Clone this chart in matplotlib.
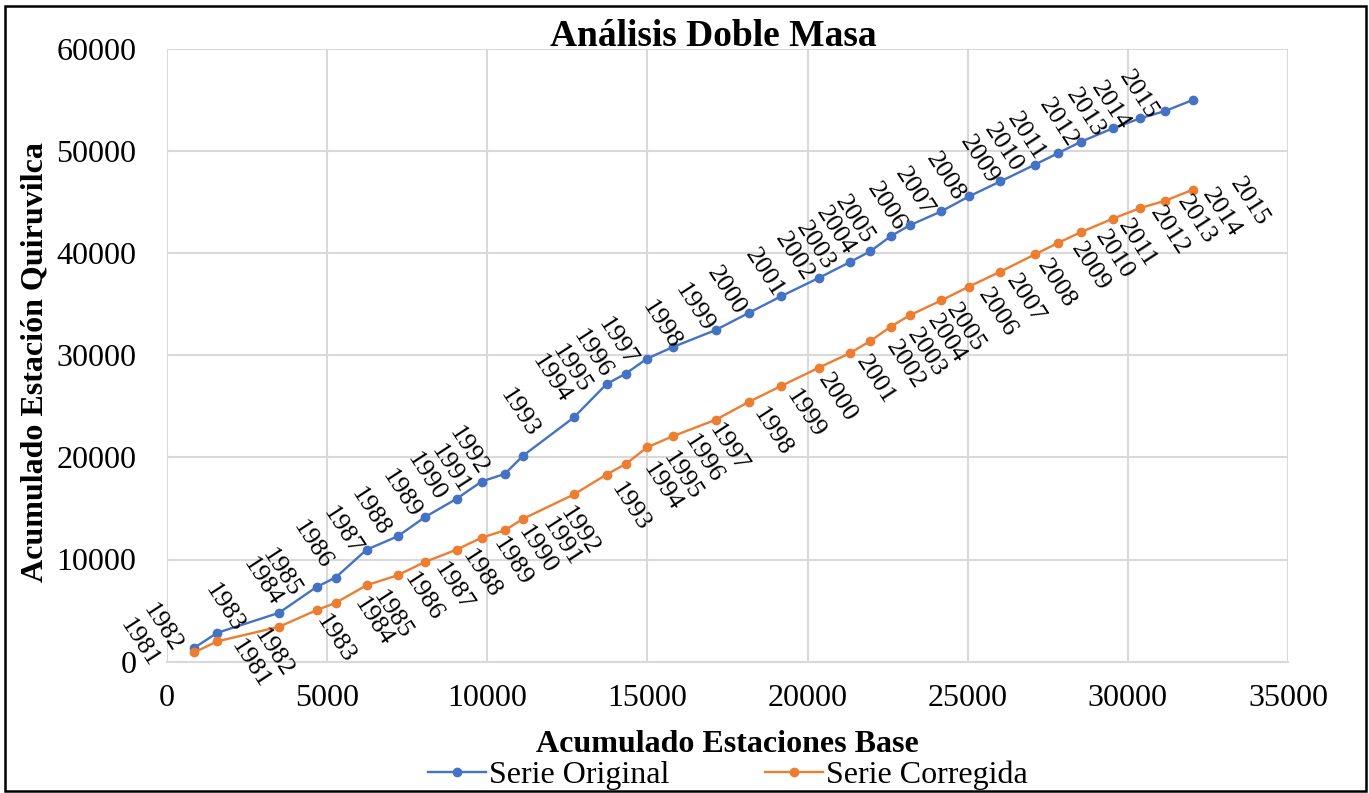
import matplotlib
matplotlib.use("Agg")
import matplotlib.pyplot as plt
from matplotlib.patches import Rectangle

# Accumulated annual values
years = list(range(1981, 2016))
base_acum = [852, 1570, 3496, 4672, 5265, 6233, 7200, 8052, 9042, 9822,
             10549, 11121, 12703, 13723, 14326, 14991, 15783, 17135, 18174, 19185,
             20359, 21317, 21963, 22596, 23189, 24179, 25040, 26020, 27091, 27818,
             28548, 29535, 30390, 31170, 32031]
serie_original = [1357, 2822, 4775, 7314, 8232, 10967, 12266, 14150, 15947, 17637,
                  18389, 20176, 23916, 27178, 28213, 29678, 30791, 32480, 34170, 35801,
                  37588, 39121, 40195, 41660, 42734, 44102, 45566, 47031, 48662, 49795,
                  50938, 52236, 53213, 53936, 55010]
serie_corregida = [908, 1982, 3408, 5039, 5752, 7480, 8457, 9756, 10967, 12139,
                   12852, 13994, 16367, 18320, 19365, 20986, 22061, 23691, 25449, 27012,
                   28799, 30205, 31406, 32803, 33916, 35381, 36729, 38193, 39873, 41006,
                   42080, 43389, 44424, 45146, 46221]

x_ticks = [0, 5000, 10000, 15000, 20000, 25000, 30000, 35000]
y_ticks = [0, 10000, 20000, 30000, 40000, 50000, 60000]

BLUE = "#4472C4"
ORANGE = "#ED7D31"
GRID = "#D9D9D9"

plt.rcParams["font.family"] = ["Liberation Serif", "DejaVu Serif"]

W, H = 1369, 793
fig = plt.figure(figsize=(W / 100, H / 100), dpi=100)
ax = fig.add_axes([167 / W, 1 - 661.6 / H, (1288 - 167) / W, (661.6 - 49) / H])

ax.plot(base_acum, serie_original, color=BLUE, lw=1.7, marker="o", ms=6,
        label="Serie Original", zorder=3)
ax.plot(base_acum, serie_corregida, color=ORANGE, lw=1.7, marker="o", ms=6,
        label="Serie Corregida", zorder=3)

label_kw = dict(textcoords="offset pixels", ha="center", va="center",
                rotation=-57, fontsize=19, color="black", zorder=4)
for yr, xv, yv in zip(years, base_acum, serie_original):
    ax.annotate(str(yr), (xv, yv), xytext=(-55, 5), **label_kw)
for yr, xv, yv in zip(years, base_acum, serie_corregida):
    ax.annotate(str(yr), (xv, yv), xytext=(56, -12), **label_kw)

ax.set_xlim(0, 35000)
ax.set_ylim(0, 60000)
ax.set_xticks(x_ticks)
ax.set_yticks(y_ticks)
ax.tick_params(axis="both", length=0, labelsize=23)
ax.tick_params(axis="x", pad=16)
ax.tick_params(axis="y", pad=22)
ax.grid(True, color=GRID, lw=1.5)
ax.set_axisbelow(True)
for side in ("left", "top", "right"):
    ax.spines[side].set_visible(False)
ax.spines["bottom"].set_color(GRID)
ax.spines["bottom"].set_linewidth(1.5)

fig.text(713 / W, 1 - 36 / H, "Análisis Doble Masa", ha="center", va="center",
         fontsize=27, fontweight="bold")
fig.text(727 / W, 1 - 745 / H, "Acumulado Estaciones Base", ha="center",
         va="center", fontsize=23, fontweight="bold")
fig.text(35 / W, 1 - 362 / H, "Acumulado Estación Quiruvilca", ha="center",
         va="center", rotation=90, fontsize=23, fontweight="bold")

fig.legend(loc="center", bbox_to_anchor=(728 / W, 1 - 775 / H), ncol=2,
           frameon=False, fontsize=23, handlelength=1.8, handletextpad=0.1,
           columnspacing=3.0, borderaxespad=0, borderpad=0)

fig.patches.append(Rectangle((5 / W, 1 - 791 / H), (1366 - 5) / W, (791 - 6) / H,
                             transform=fig.transFigure, fill=False,
                             edgecolor="black", lw=1.8))

fig.savefig("out.png", dpi=100)
